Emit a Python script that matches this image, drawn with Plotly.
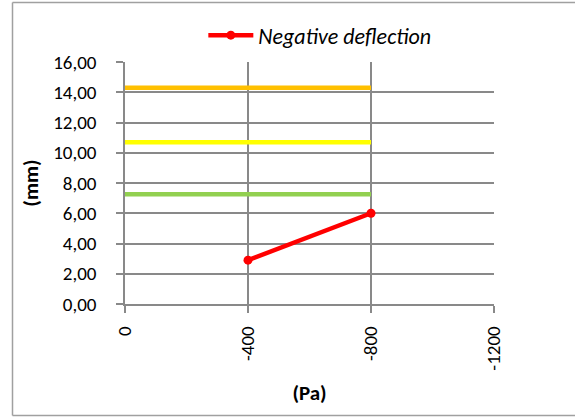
import plotly.graph_objects as go

# Data
pressure_limits = [0, -800]
limit_orange = [14.3, 14.3]
limit_yellow = [10.7, 10.7]
limit_green = [7.25, 7.25]
pressure_neg = [-400, -800]
deflection_neg = [2.9, 6.0]
x_tickvals = [0, -400, -800, -1200]
x_ticktext = ["0", "-400", "-800", "-1200"]

FONT = "Carlito, Calibri, Lato, sans-serif"
GRID = "#898989"

fig = go.Figure()
fig.add_trace(go.Scatter(x=pressure_limits, y=limit_orange, mode="lines",
                         line=dict(color="#FFC000", width=4.5), showlegend=False))
fig.add_trace(go.Scatter(x=pressure_limits, y=limit_yellow, mode="lines",
                         line=dict(color="#FFFF00", width=4.5), showlegend=False))
fig.add_trace(go.Scatter(x=pressure_limits, y=limit_green, mode="lines",
                         line=dict(color="#92D050", width=4.5), showlegend=False))
fig.add_trace(go.Scatter(x=pressure_neg, y=deflection_neg, mode="lines+markers",
                         name="Negative deflection",
                         line=dict(color="#FF0000", width=4.5),
                         marker=dict(color="#FF0000", size=9)))

# outer chart border (left, top, bottom edges visible in the reference)
bx0 = (12.5 - 125) / 369
bx1 = (600 - 125) / 369
by0 = (304 - 415.5) / 242
by1 = (304 - 2.5) / 242
border = dict(color="#A0A0A0", width=1.5)

fig.update_layout(
    width=575, height=417,
    margin=dict(l=125, r=81, t=62, b=113),
    paper_bgcolor="white", plot_bgcolor="white",
    separators=",.",
    font=dict(family=FONT, size=19, color="#000000"),
    legend=dict(x=0.528, y=1.11, xanchor="center", yanchor="middle",
                font=dict(family=FONT, size=22, style="italic"),
                bgcolor="rgba(0,0,0,0)", itemwidth=45),
    xaxis=dict(range=[0, -1200], tickvals=x_tickvals, ticktext=x_ticktext,
               tickangle=-90, tickfont=dict(family=FONT, size=19),
               showgrid=True, gridcolor=GRID, gridwidth=1.5,
               showline=True, linecolor=GRID, linewidth=1.5,
               ticks="outside", ticklen=7, tickcolor=GRID, tickwidth=1.5,
               ticklabelstandoff=6,
               zeroline=False,
               title=dict(text="<b>(Pa)</b>", font=dict(family=FONT, size=21), standoff=16)),
    yaxis=dict(range=[0, 16], dtick=2, tickformat=".2f",
               tickfont=dict(family=FONT, size=19),
               showgrid=True, gridcolor=GRID, gridwidth=1.5,
               showline=True, linecolor=GRID, linewidth=1.5,
               ticks="outside", ticklen=7, tickcolor=GRID, tickwidth=1.5,
               ticklabelstandoff=16,
               zeroline=False,
               title=dict(text="<b>(mm)</b>", font=dict(family=FONT, size=21), standoff=9)),
    shapes=[
        dict(type="line", xref="paper", yref="paper", x0=bx0, x1=bx0, y0=by0, y1=by1, line=border),
        dict(type="line", xref="paper", yref="paper", x0=bx0, x1=bx1, y0=by1, y1=by1, line=border),
        dict(type="line", xref="paper", yref="paper", x0=bx0, x1=bx1, y0=by0, y1=by0, line=border),
    ],
)

fig.write_html("out.html", config={"displayModeBar": False},
               post_script="document.body.style.margin='0';document.body.style.overflow='hidden';")
